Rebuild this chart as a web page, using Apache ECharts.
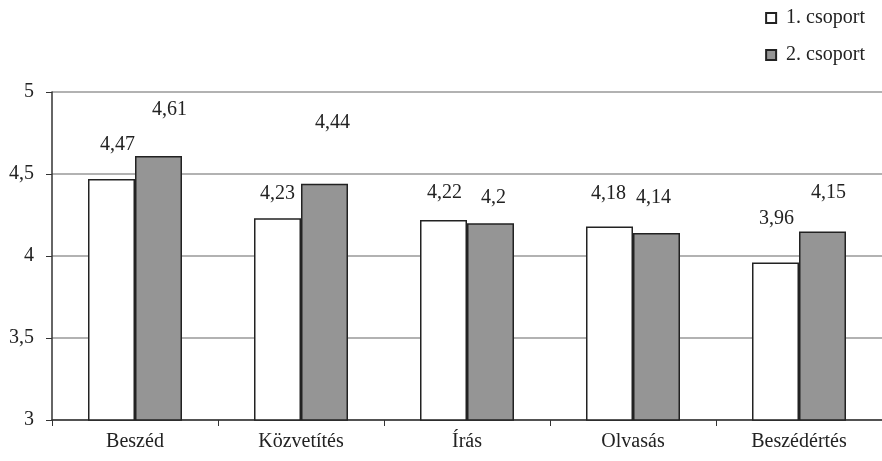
<!DOCTYPE html>
<html>
<head>
<meta charset="utf-8">
<script src="https://cdn.jsdelivr.net/npm/echarts@6/dist/echarts.min.js"></script>
<style>
  html, body { margin: 0; padding: 0; background: #fff; }
  #chart { width: 882px; height: 461px; }
</style>
</head>
<body>
<div id="chart"></div>
<script>
// Skill categories and mean scores of the two groups
const categories = ['Beszéd', 'Közvetítés', 'Írás', 'Olvasás', 'Beszédértés'];
const group1Name = '1. csoport';
const group2Name = '2. csoport';
const group1 = [4.47, 4.23, 4.22, 4.18, 3.96];
const group2 = [4.61, 4.44, 4.2, 4.14, 4.15];
const yTicks = [3, 3.5, 4, 4.5, 5];

// Value-label placement (pixels, relative to the top centre of each bar)
const group1LabelShift = [[6, -34], [0, -25], [1, -27], [-1, -33], [1, -44]];
const group2LabelShift = [[11, -46], [8, -61], [3, -25], [-3, -35], [6, -39]];

const FONT = '"Liberation Serif", "DejaVu Serif", serif';
const TEXT_SIZE = 20;
const fmt = v => String(v).replace('.', ',');

function seriesData(values, shifts) {
  return values.map((v, i) => ({
    value: v,
    label: { offset: shifts[i] }
  }));
}

const labelStyle = {
  show: true,
  position: 'top',
  distance: 0,
  align: 'center',
  verticalAlign: 'middle',
  fontFamily: FONT,
  fontSize: TEXT_SIZE,
  color: '#222',
  formatter: p => fmt(p.value)
};

const chart = echarts.init(document.getElementById('chart'), null, { renderer: 'canvas' });
chart.setOption({
  animation: false,
  backgroundColor: '#fff',
  grid: { left: 52, right: 0, top: 92, bottom: 41, containLabel: false },
  legend: {
    orient: 'vertical',
    right: 12,
    top: 3,
    itemWidth: 10,
    itemHeight: 10,
    itemGap: 17,
    icon: 'rect',
    textStyle: { fontFamily: FONT, fontSize: TEXT_SIZE, color: '#222', padding: [0, 0, 0, 5] },
    data: [group1Name, group2Name]
  },
  xAxis: {
    type: 'category',
    data: categories,
    boundaryGap: true,
    axisLine: { show: true, lineStyle: { color: '#333', width: 1.5 } },
    axisTick: { show: true, length: 6, inside: false, alignWithLabel: false, lineStyle: { color: '#333' } },
    axisLabel: { fontFamily: FONT, fontSize: TEXT_SIZE, color: '#222', margin: 12 },
    splitLine: { show: false }
  },
  yAxis: {
    type: 'value',
    min: yTicks[0],
    max: yTicks[yTicks.length - 1],
    interval: 0.5,
    axisLine: { show: true, lineStyle: { color: '#333', width: 1.5 } },
    axisTick: { show: true, length: 6, lineStyle: { color: '#333' } },
    axisLabel: {
      fontFamily: FONT, fontSize: TEXT_SIZE, color: '#222', margin: 18,
      formatter: v => fmt(v)
    },
    splitLine: { show: true, lineStyle: { color: '#999', width: 1.5 } }
  },
  series: [
    {
      name: group1Name,
      type: 'bar',
      barWidth: 47,
      barGap: '0%',
      itemStyle: { color: '#ffffff', borderColor: '#222', borderWidth: 1.5 },
      label: labelStyle,
      data: seriesData(group1, group1LabelShift)
    },
    {
      name: group2Name,
      type: 'bar',
      barWidth: 47,
      barGap: '0%',
      itemStyle: { color: '#959595', borderColor: '#222', borderWidth: 1.5 },
      label: labelStyle,
      data: seriesData(group2, group2LabelShift)
    }
  ]
});
</script>
</body>
</html>
